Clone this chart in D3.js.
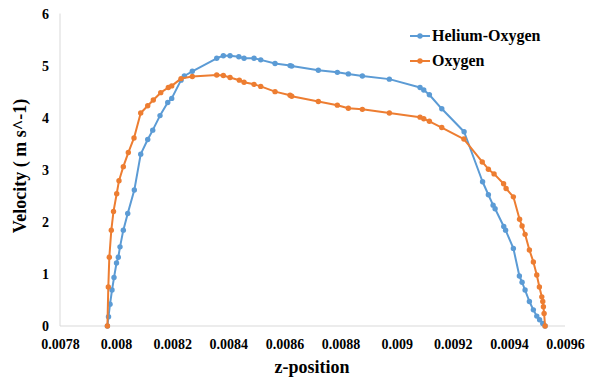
<!DOCTYPE html>
<html>
<head>
<meta charset="utf-8">
<script src="https://cdn.jsdelivr.net/npm/d3@7"></script>
<style>
  html, body { margin: 0; padding: 0; background: #ffffff; }
  svg { display: block; }
  text { font-family: "Liberation Serif", "Times New Roman", Times, "Tinos", "DejaVu Serif", serif; font-weight: bold; fill: #000; }
</style>
</head>
<body>
<svg id="chart" width="590" height="378"></svg>
<script>
// ---- data ----
const seriesNames = ["Helium-Oxygen", "Oxygen"];
const xTicks = [0.0078, 0.008, 0.0082, 0.0084, 0.0086, 0.0088, 0.009, 0.0092, 0.0094, 0.0096];
const yTicks = [0, 1, 2, 3, 4, 5, 6];

const heliumOxygenX = [0.007969, 0.0079729, 0.0079783, 0.0079854, 0.0079925, 0.0080014, 0.0080078, 0.0080139,
  0.0080257, 0.0080414, 0.0080649, 0.0080877, 0.0081127, 0.0081305, 0.0081565, 0.008184, 0.0081982, 0.0082314,
  0.0082431, 0.0082716, 0.0083586, 0.0083822, 0.0084061, 0.0084374, 0.008456, 0.0084916, 0.0085155, 0.0085665,
  0.00862, 0.008626, 0.0087208, 0.0087886, 0.0088278, 0.0088777, 0.008974, 0.0090834, 0.0090966, 0.0091166,
  0.0091608, 0.0092403, 0.0093062, 0.0093269, 0.0093437, 0.0093508, 0.0093818, 0.0093882, 0.009416, 0.0094374,
  0.009447, 0.0094577, 0.0094731, 0.0094873, 0.0094994, 0.0095094, 0.0095208, 0.009529];
const heliumOxygenY = [0, 0.18, 0.42, 0.69, 0.93, 1.21, 1.32, 1.52,
  1.84, 2.16, 2.61, 3.30, 3.58, 3.76, 4.04, 4.29, 4.37, 4.72,
  4.80, 4.89, 5.14, 5.19, 5.19, 5.17, 5.14, 5.14, 5.11, 5.04,
  5.00, 4.99, 4.91, 4.87, 4.84, 4.80, 4.74, 4.58, 4.53, 4.44,
  4.17, 3.73, 2.77, 2.52, 2.32, 2.25, 1.91, 1.84, 1.49, 0.96,
  0.84, 0.69, 0.47, 0.31, 0.19, 0.12, 0.05, 0];

const oxygenX = [0.007969, 0.0079722, 0.0079758, 0.0079829, 0.0079907, 0.0080021, 0.0080103, 0.0080257,
  0.0080435, 0.0080638, 0.0080877, 0.0081127, 0.0081326, 0.008159, 0.0081861, 0.0081982, 0.0082314, 0.0082716,
  0.0083586, 0.0083822, 0.0084061, 0.0084392, 0.008456, 0.0084916, 0.0085155, 0.0085665, 0.00862, 0.008626,
  0.0087208, 0.0087886, 0.0088278, 0.0088777, 0.008974, 0.0090834, 0.0090966, 0.0091166, 0.0091608, 0.0092396,
  0.0093051, 0.0093269, 0.0093472, 0.0093811, 0.00939, 0.009416, 0.0094381, 0.009447, 0.0094577, 0.0094731,
  0.0094873, 0.0094994, 0.0095087, 0.0095173, 0.0095208, 0.009523, 0.0095255, 0.009529];
const oxygenY = [0, 0.75, 1.32, 1.84, 2.20, 2.54, 2.79, 3.06,
  3.33, 3.61, 4.09, 4.23, 4.34, 4.48, 4.58, 4.61, 4.75, 4.79,
  4.82, 4.81, 4.77, 4.72, 4.68, 4.64, 4.60, 4.50, 4.43, 4.41,
  4.31, 4.24, 4.18, 4.16, 4.09, 4.01, 3.98, 3.93, 3.81, 3.59,
  3.15, 3.01, 2.92, 2.73, 2.64, 2.48, 2.05, 1.92, 1.76, 1.46,
  1.23, 0.98, 0.75, 0.56, 0.47, 0.37, 0.24, 0];

const colors = ["#5B9BD5", "#ED7D31"];
const FONT = '"Liberation Serif", "Times New Roman", Times, "Tinos", "DejaVu Serif", serif';

// ---- chart ----
const svg = d3.select("#chart");
const x = d3.scaleLinear().domain([0.0078, 0.0096]).range([60, 565]);
const y = d3.scaleLinear().domain([0, 6]).range([326, 13.5]);

// axes lines
svg.append("line").attr("x1", x(0.0078)).attr("x2", x(0.0078)).attr("y1", y(6)).attr("y2", y(0))
  .attr("stroke", "#D9D9D9").attr("stroke-width", 1);
svg.append("line").attr("x1", x(0.0078)).attr("x2", x(0.0096)).attr("y1", y(0)).attr("y2", y(0))
  .attr("stroke", "#D9D9D9").attr("stroke-width", 1);

// tick labels
const xAxis = d3.axisBottom(x).tickValues(xTicks).tickSize(0).tickPadding(0).tickFormat(d => String(d));
const gx = svg.append("g").attr("transform", `translate(0,${y(0)})`).call(xAxis);
gx.attr("font-family", null).attr("font-size", null);
gx.select(".domain").remove();
gx.selectAll("text").attr("y", 23).attr("dy", null).style("font-size", "14px")
  .style("font-family", FONT).style("font-weight", "bold").attr("fill", "#000");

const yAxis = d3.axisLeft(y).tickValues(yTicks).tickSize(0).tickPadding(0).tickFormat(d => String(d));
const gy = svg.append("g").attr("transform", `translate(${x(0.0078)},0)`).call(yAxis);
gy.attr("font-family", null).attr("font-size", null);
gy.select(".domain").remove();
gy.selectAll("text").attr("x", -11).attr("dy", "0.35em").style("font-size", "14px")
  .style("font-family", FONT).style("font-weight", "bold").attr("fill", "#000");

// axis titles
svg.append("text").attr("x", 312).attr("y", 373).attr("text-anchor", "middle")
  .style("font-family", FONT).style("font-size", "18px").text("z-position");
svg.append("text").attr("transform", "translate(26,166) rotate(-90)").attr("text-anchor", "middle")
  .style("font-family", FONT).style("font-size", "18px").text("Velocity ( m s^-1)");

// series
const series = [
  { name: seriesNames[0], xs: heliumOxygenX, ys: heliumOxygenY, color: colors[0] },
  { name: seriesNames[1], xs: oxygenX, ys: oxygenY, color: colors[1] }
];
const line = d3.line().x(d => x(d[0])).y(d => y(d[1]));
series.forEach(s => {
  const pts = s.xs.map((v, i) => [v, s.ys[i]]);
  svg.append("path").datum(pts).attr("d", line).attr("fill", "none")
    .attr("stroke", s.color).attr("stroke-width", 2).attr("stroke-linejoin", "round");
  svg.append("g").selectAll("circle").data(pts).join("circle")
    .attr("cx", d => x(d[0])).attr("cy", d => y(d[1])).attr("r", 2.7).attr("fill", s.color);
});

// legend
series.forEach((s, i) => {
  const ly = 36 + i * 25;
  const g = svg.append("g");
  g.append("line").attr("x1", 410).attr("x2", 430).attr("y1", ly).attr("y2", ly)
    .attr("stroke", s.color).attr("stroke-width", 2);
  g.append("circle").attr("cx", 420).attr("cy", ly).attr("r", 2.7).attr("fill", s.color);
  g.append("text").attr("x", 432).attr("y", ly + 5).style("font-family", FONT)
    .style("font-size", "16px").text(s.name);
});
</script>
</body>
</html>
